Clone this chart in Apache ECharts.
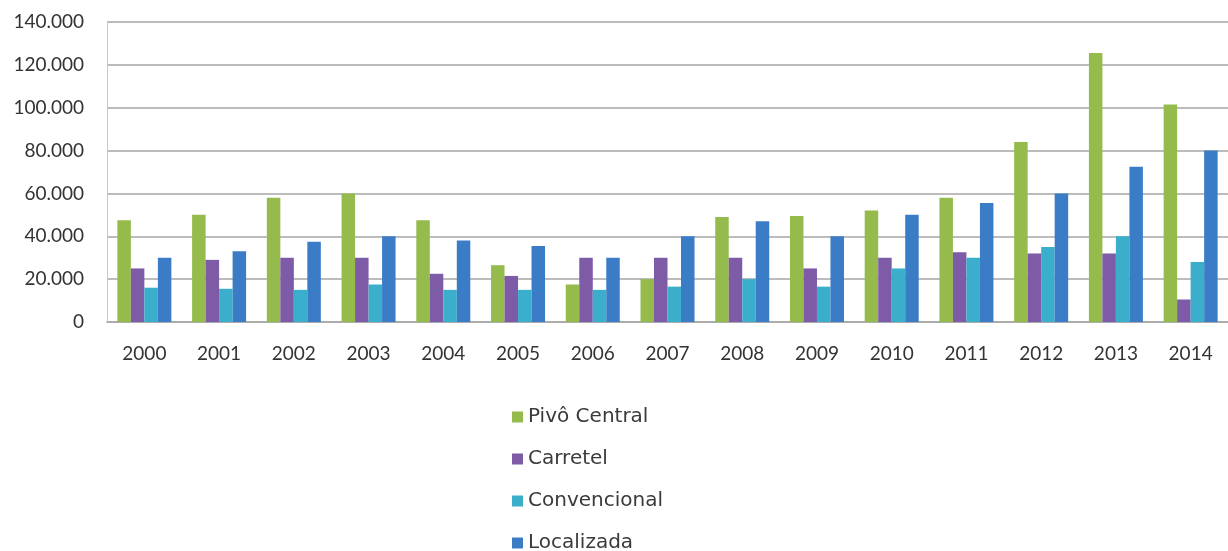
<!DOCTYPE html>
<html>
<head>
<meta charset="utf-8">
<title>Área irrigada por método</title>
<script src="https://cdn.jsdelivr.net/npm/echarts@6/dist/echarts.min.js"></script>
<style>
	html, body {
		margin: 0;
		padding: 0;
		background: #ffffff;
	}
	#myChart {
		width: 1228px;
		height: 551px;
	}
</style>
</head>
<body>
<div id="myChart"></div>
<script>
	// anos (eixo x)
	var years = ['2000', '2001', '2002', '2003', '2004', '2005', '2006', '2007', '2008', '2009', '2010', '2011', '2012', '2013', '2014'];
	// valores
	var pivoCentral = [47500, 50000, 58000, 60000, 47500, 26500, 17500, 20000, 49000, 49500, 52000, 58000, 84000, 125500, 101500];
	var carretel = [25000, 29000, 30000, 30000, 22500, 21500, 30000, 30000, 30000, 25000, 30000, 32500, 32000, 32000, 10500];
	var convencional = [16000, 15500, 15000, 17500, 15000, 15000, 15000, 16500, 20000, 16500, 25000, 30000, 35000, 40000, 28000];
	var localizada = [30000, 33000, 37500, 40000, 38000, 35500, 30000, 40000, 47000, 40000, 50000, 55500, 60000, 72500, 80000];
	var seriesNames = ['Pivô Central', 'Carretel', 'Convencional', 'Localizada'];

	var colors = ['#95bb4c', '#7d5ba6', '#3aaecb', '#3b7cc6'];

	let myChart = echarts.init(document.getElementById('myChart'));

	function fmt(v) {
		// separador de milhar com ponto
		return String(v).replace(/\B(?=(\d{3})+(?!\d))/g, '.');
	}

	function barSeries(name, data) {
		return {
			name: name,
			type: 'bar',
			data: data,
			barWidth: 13.5, //largura da barra
			barGap: '0%',
			animation: false
		};
	}

	myChart.setOption({
		color: colors,
		animation: false,
		grid: {
			left: 107,
			right: -13,
			top: 22,
			height: 300
		},
		legend: {
			orient: 'vertical',
			left: 512,
			top: 407,
			height: 170, // deixa a legenda numa coluna só
			padding: 0,
			itemWidth: 11,
			itemHeight: 11,
			itemGap: 22,
			icon: 'rect',
			textStyle: {
				fontFamily: 'DejaVu Sans',
				fontSize: 20,
				color: '#3a3a3a'
			},
			data: seriesNames
		},
		xAxis: {
			type: 'category',
			data: years,
			axisLine: {
				lineStyle: { color: '#a6a6a6', width: 1.5 }
			},
			axisTick: { show: false },
			axisLabel: {
				interval: 0,
				margin: 22,
				fontFamily: 'Lato',
				fontSize: 19,
				color: '#333333'
			}
		},
		yAxis: {
			type: 'value',
			min: 0,
			max: 140000,
			interval: 20000,
			axisLine: {
				show: true,
				lineStyle: { color: '#c8c8c8', width: 1 }
			},
			axisTick: { show: false },
			splitLine: {
				lineStyle: { color: '#a6a6a6', width: 1.5 }
			},
			axisLabel: {
				margin: 23,
				fontFamily: 'Lato',
				fontSize: 19,
				color: '#333333',
				formatter: fmt
			}
		},
		series: [
			barSeries(seriesNames[0], pivoCentral),
			barSeries(seriesNames[1], carretel),
			barSeries(seriesNames[2], convencional),
			barSeries(seriesNames[3], localizada)
		]
	});
</script>
</body>
</html>
